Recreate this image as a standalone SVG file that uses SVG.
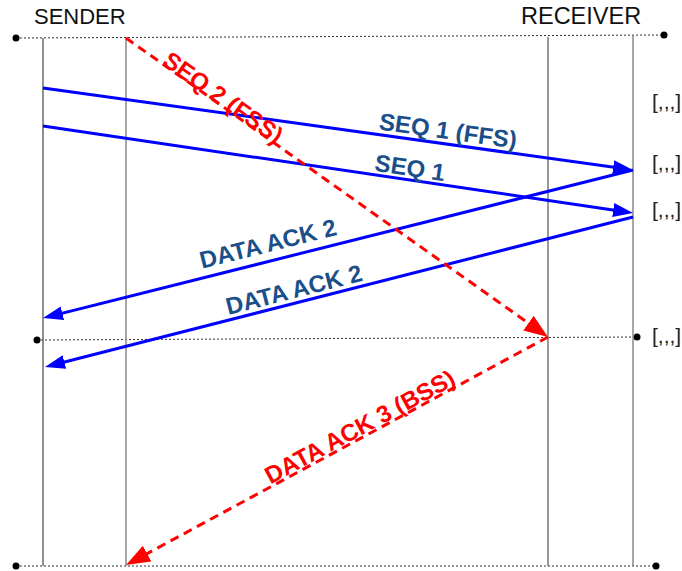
<svg xmlns="http://www.w3.org/2000/svg" width="682" height="571" viewBox="0 0 682 571">
<style>
.hdr{font-family:"Liberation Sans",Arial,sans-serif;font-size:22px;fill:#111}
.br{font-family:"Liberation Sans",Arial,sans-serif;font-size:21px;fill:#222}
.bl{font-family:"Liberation Sans",Arial,sans-serif;font-size:24px;font-weight:bold;fill:#1b4f8a;text-anchor:middle}
.rl{font-family:"Liberation Sans",Arial,sans-serif;font-size:24px;font-weight:bold;fill:#ff0000;text-anchor:middle}
.dot{stroke:#333;stroke-width:1;stroke-dasharray:2 2;fill:none}
.blue{stroke:#0000ff;stroke-width:3;fill:none}
.red{stroke:#ff0000;stroke-width:3;fill:none;stroke-dasharray:9 6}
</style>
<defs>
<marker id="ab" markerUnits="userSpaceOnUse" markerWidth="20" markerHeight="14" refX="10" refY="7" orient="auto"><path d="M0,0 L20,7 L0,14 z" fill="#0000ff"/></marker>
<marker id="ar" markerUnits="userSpaceOnUse" markerWidth="24" markerHeight="18" refX="12" refY="9" orient="auto"><path d="M0,0 L24,9 L0,18 z" fill="#ff0000"/></marker>
</defs>
<g id="frame">
<line class="dot" x1="16" y1="38" x2="664" y2="35"/>
<line class="dot" x1="37" y1="340" x2="637" y2="337"/>
<line class="dot" x1="16" y1="566" x2="656" y2="566"/>
<circle cx="16" cy="38" r="3.5" fill="#000"/>
<circle cx="664" cy="35" r="3.5" fill="#000"/>
<circle cx="37" cy="340" r="3.5" fill="#000"/>
<circle cx="637" cy="337" r="3.5" fill="#000"/>
<circle cx="16" cy="566" r="3.5" fill="#000"/>
<circle cx="656" cy="566" r="3.5" fill="#000"/>
<line x1="43" y1="38" x2="43" y2="566" stroke="#222" stroke-width="1"/>
<line x1="126" y1="38" x2="126" y2="566" stroke="#888" stroke-width="1.5"/>
<line x1="548" y1="37" x2="548" y2="566" stroke="#333" stroke-width="1"/>
<line x1="633" y1="36" x2="633" y2="566" stroke="#888" stroke-width="1.5"/>
</g>
<g id="sender"><text class="hdr" x="34" y="24">SENDER</text></g>
<g id="receiver"><text class="hdr" x="521" y="24" style="font-size:23.5px">RECEIVER</text></g>
<g id="states">
<text class="br" x="652" y="109">[,,,]</text>
<text class="br" x="652" y="170">[,,,]</text>
<text class="br" x="652" y="217">[,,,]</text>
<text class="br" x="652" y="343">[,,,]</text>
</g>
<g id="connectors">
<line class="blue" x1="43" y1="88" x2="623.1" y2="168.6" marker-end="url(#ab)"/>
<line class="blue" x1="43" y1="126" x2="623.1" y2="211.5" marker-end="url(#ab)"/>
<line class="blue" x1="633" y1="170" x2="52.7" y2="315.6" marker-end="url(#ab)"/>
<line class="blue" x1="633" y1="217" x2="54.7" y2="364.5" marker-end="url(#ab)"/>
<line class="red" x1="126" y1="38" x2="538.2" y2="330.1" marker-end="url(#ar)"/>
<line class="red" x1="548" y1="337" x2="136.6" y2="559.3" marker-end="url(#ar)"/>
</g>
<g id="labels">
<text class="bl" transform="translate(448,131) rotate(7.9)" y="8">SEQ 1 (FFS)</text>
<text class="bl" transform="translate(410,168) rotate(8.4)" y="8">SEQ 1</text>
<text class="bl" transform="translate(268,244) rotate(-14.1)" y="8">DATA ACK 2</text>
<text class="bl" transform="translate(294,290) rotate(-14.3)" y="8">DATA ACK 2</text>
<text class="rl" transform="translate(223,98) rotate(35.3)" y="8">SEQ 2 (FSS)</text>
<text class="rl" transform="translate(360,427) rotate(-28.4)" y="8">DATA ACK 3 (BSS)</text>
</g>
</svg>
